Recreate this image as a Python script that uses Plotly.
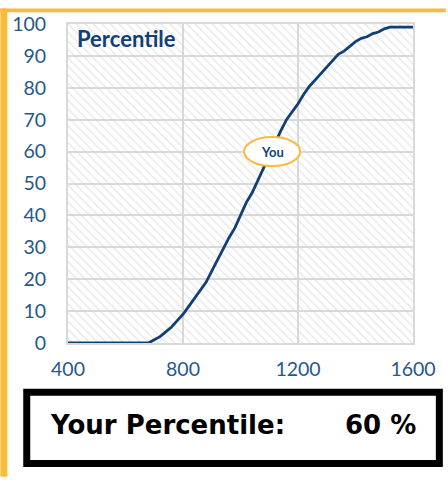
import plotly.graph_objects as go

# ---- data ----
scores = [400, 680, 700, 720, 740, 760, 780, 800, 820, 840, 860, 880, 900, 920, 940, 960, 980,
          1000, 1020, 1040, 1060, 1080, 1100, 1120, 1140, 1160, 1180, 1200, 1220, 1240, 1260,
          1280, 1300, 1320, 1340, 1360, 1380, 1400, 1420, 1440, 1460, 1480, 1500, 1520, 1600]
percentiles = [0, 0, 1, 2, 3.5, 5, 7, 9, 11.5, 14, 16.5, 19, 22.5, 26, 30, 33, 36,
               40, 44, 47, 51, 55, 59, 63, 66.5, 70, 72.5, 75, 78, 80.5, 82.5,
               84.5, 86.5, 88.5, 90.5, 91.5, 93, 94.5, 95.5, 96, 97, 97.5, 98.5, 99, 99]
x_ticks = [400, 800, 1200, 1600]
y_ticks = [0, 10, 20, 30, 40, 50, 60, 70, 80, 90, 100]
your_score = 1110
your_percentile = 60
chart_title = "Percentile"
marker_label = "You"
box_label = "Your Percentile:"

# ---- layout geometry (pixels) ----
W, H = 448, 480
L, R, T, B = 68, 415, 16, 343

def px(x):
    return (x - L) / (R - L)

def py(y):
    return (B - y) / (B - T)

NAVY = "#123F74"
TICK = "#27578A"
ORANGE = "#FBBA3A"
GRID = "#D9D9D9"

fig = go.Figure()

# hatched background of plot area
fig.add_trace(go.Scatter(
    x=[x_ticks[0], x_ticks[-1], x_ticks[-1], x_ticks[0], x_ticks[0]],
    y=[y_ticks[0], y_ticks[0], y_ticks[-1], y_ticks[-1], y_ticks[0]],
    mode="none", fill="toself", fillcolor="rgba(0,0,0,0)",
    fillpattern=dict(shape="\\", fgcolor="#D4D4D4", bgcolor="rgba(0,0,0,0)", size=6, solidity=0.25),
    hoverinfo="skip", showlegend=False,
))

fig.add_trace(go.Scatter(
    x=scores, y=percentiles, mode="lines",
    line=dict(color=NAVY, width=2.8), showlegend=False,
))

shapes = [
    # orange edge bands
    dict(type="rect", xref="paper", yref="paper", x0=px(0), x1=px(7), y0=py(480), y1=py(0),
         fillcolor=ORANGE, line=dict(width=0), layer="above"),
    dict(type="rect", xref="paper", yref="paper", x0=px(0), x1=px(W), y0=py(4), y1=py(0),
         fillcolor=ORANGE, line=dict(width=0), layer="above"),
    # result box
    dict(type="rect", xref="paper", yref="paper", x0=px(26.5), x1=px(441.5), y0=py(466.5), y1=py(393.5),
         fillcolor="white", line=dict(color="black", width=7), layer="above"),
    # "You" ellipse
    dict(type="circle", xref="x", yref="y", xsizemode="pixel", ysizemode="pixel",
         xanchor=your_score, yanchor=your_percentile, x0=-28, x1=28, y0=-14.5, y1=14.5,
         fillcolor="white", line=dict(color=ORANGE, width=2), layer="above"),
]

annotations = [
    dict(text=f"<b>{chart_title}</b>", xref="paper", yref="paper", x=px(75), y=py(31),
         xanchor="left", yanchor="middle", showarrow=False,
         font=dict(family="Lato", size=22, color=NAVY)),
    dict(text=f"<b>{marker_label}</b>", xref="x", yref="y", x=your_score, y=your_percentile,
         xanchor="center", yanchor="middle", showarrow=False,
         font=dict(family="Lato", size=13, color=NAVY)),
    dict(text=f"<b>{box_label}</b>", xref="paper", yref="paper", x=px(48), y=py(427),
         xanchor="left", yanchor="middle", showarrow=False,
         font=dict(family="DejaVu Sans", size=26, color="black")),
    dict(text=f"<b>{your_percentile} %</b>", xref="paper", yref="paper", x=px(420), y=py(427),
         xanchor="right", yanchor="middle", showarrow=False,
         font=dict(family="DejaVu Sans", size=26, color="black")),
]

fig.update_layout(
    width=W, height=H, autosize=False,
    margin=dict(l=L, r=W - R, t=T, b=H - B, pad=0),
    paper_bgcolor="white", plot_bgcolor="white",
    shapes=shapes, annotations=annotations,
    xaxis=dict(range=[x_ticks[0], x_ticks[-1]], tickvals=x_ticks, showgrid=True,
               gridcolor=GRID, gridwidth=2, showline=True, linecolor=GRID, linewidth=2,
               mirror=True, zeroline=False, ticks="outside", ticklen=8,
               tickcolor="rgba(0,0,0,0)", tickfont=dict(family="Lato", size=19.5, color=TICK)),
    yaxis=dict(range=[y_ticks[0], y_ticks[-1]], tickvals=y_ticks, showgrid=True,
               gridcolor=GRID, gridwidth=2, showline=True, linecolor=GRID, linewidth=2,
               mirror=True, zeroline=False, ticks="outside", ticklen=16,
               tickcolor="rgba(0,0,0,0)", tickfont=dict(family="Lato", size=19.5, color=TICK)),
)

post = ("document.body.style.margin='0';document.body.style.padding='0';"
        "var d=document.getElementById('{plot_id}');"
        "d.style.position='absolute';d.style.left='0px';d.style.top='0px';")

fig.write_html("out.html", post_script=post, config={"displayModeBar": False})
